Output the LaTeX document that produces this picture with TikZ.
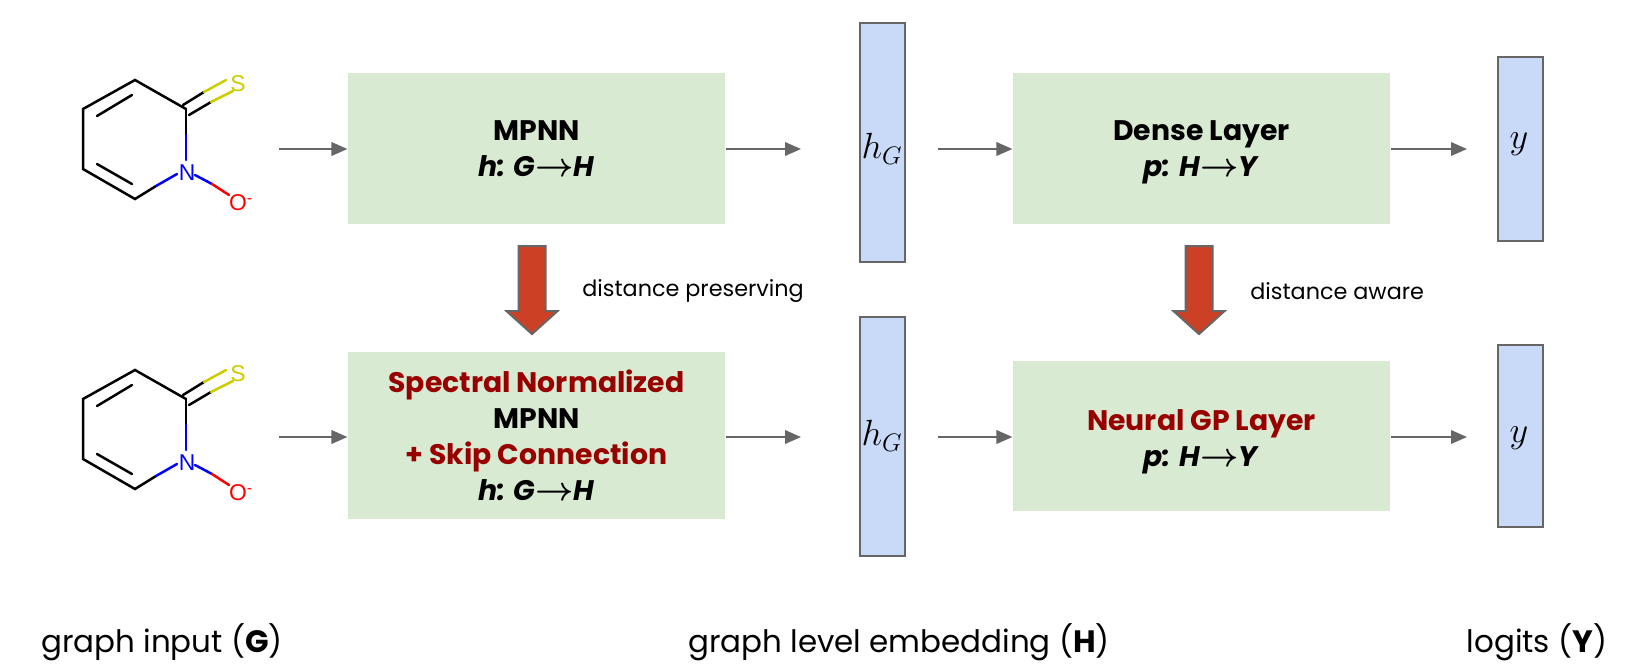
\documentclass[tikz,border=0pt]{standalone}
\usepackage{fontspec}
\setmainfont{Poppins}
\newfontfamily\atomfont{Liberation Sans}
\usepackage{xcolor}
\usetikzlibrary{calc,positioning,arrows.meta,shapes.arrows}
\definecolor{blockgreen}{HTML}{D9EAD3}
\definecolor{vecblue}{HTML}{C9DAF8}
\definecolor{edgegray}{HTML}{666666}
\definecolor{bigred}{HTML}{CC4125}
\definecolor{darkred}{HTML}{980000}
\definecolor{sulfur}{HTML}{CCCC00}
\newcommand{\maparrow}{{\boldmath\scalebox{1.1}[1.1]{$\rightarrow$}}}
\tikzstyle{block}   = [rectangle, fill=blockgreen, minimum width=7.55cm, minimum height=3.02cm, align=center, font=\fontsize{16.1}{20.5}\selectfont\bfseries, inner sep=0pt]
\tikzstyle{vec}     = [rectangle, draw=edgegray, line width=0.04cm, fill=vecblue, minimum width=0.9cm, inner sep=0pt]
\tikzstyle{vectext} = [inner sep=0pt, font=\huge]
\tikzstyle{bigarrow}= [single arrow, draw=edgegray, line width=0.04cm, fill=bigred, rotate=-90, minimum height=1.76cm, minimum width=1cm, single arrow head extend=0.24cm, single arrow tip angle=96, inner xsep=0pt, inner ysep=0.25cm]
\tikzstyle{arrow}   = [line width=0.04cm, draw=edgegray, -{Triangle[length=0.32cm,width=0.27cm]}]
\tikzstyle{bond}    = [line width=0.05cm, line cap=round]
\tikzstyle{atom}    = [inner sep=0pt, font=\fontsize{13}{13}\selectfont\atomfont]
\tikzstyle{note}    = [font=\fontsize{12.7}{15}\selectfont, inner sep=0pt]
\tikzstyle{axis}    = [font=\fontsize{17.6}{22}\selectfont, inner sep=0pt]
\begin{document}
\begin{tikzpicture}[x=0.02cm,y=-0.02cm]
        \useasboundingbox (0,0) rectangle (1633,670);

        % molecules
        \foreach \row/\dy in {top/0,bot/290} {
            \begin{scope}[shift={(0,\dy)}]
                \draw[bond] (186,109) -- (135,80) -- (83,109) -- (83,169) -- (135,199) -- (156,186);
                \draw[bond] (97,116) -- (132,95);
                \draw[bond] (97,164) -- (132,184);
                \draw[bond] (186,109) -- (186,135);
                \draw[bond,blue] (186,135) -- (186,160);
                \draw[bond,blue] (156,186) -- (177,174);
                \draw[bond,blue] (195,175) -- (212,184);
                \draw[bond,red] (212,184) -- (229,195);
                \draw[bond] (183,105) -- (204,92);
                \draw[bond] (189,115) -- (211,102);
                \draw[bond,sulfur] (204,92) -- (226,80);
                \draw[bond,sulfur] (211,102) -- (233,91);
                \node[atom,text=sulfur] (s\row) at (238,84) {S};
                \node[atom,text=blue] (n\row) at (187,173) {N};
                \node[atom,text=red] (o\row) at (241,203) {O\textsuperscript{-}};
            \end{scope}
        }

        % blocks
        \node[block] (mpnn) at (536.5,148.5) {MPNN\\\textit{h: G}\maparrow\textit{H}};
        \node[block,minimum height=3.34cm] (specmpnn) at (536.5,435.5) {\textcolor{darkred}{Spectral Normalized}\\MPNN\\\textcolor{darkred}{+ Skip Connection}\\\textit{h: G}\maparrow\textit{H}};
        \node[block] (dense) at (1201.5,148.5) {\rule{0pt}{16pt}Dense Layer\\\textit{p: H}\maparrow\textit{Y}};
        \node[block] (gplayer) at (1201.5,436) {\rule{0pt}{18pt}\textcolor{darkred}{Neural GP Layer}\\\textit{p: H}\maparrow\textit{Y}};

        % vectors
        \node[vec,minimum height=4.78cm] (hgtop) at (882,142.5) {};
        \node[vec,minimum height=4.78cm] (hgbot) at (882,436.5) {};
        \node[vec,minimum height=3.68cm] (ytop) at (1520.5,149) {};
        \node[vec,minimum height=3.66cm] (ybot) at (1520.5,436) {};
        \node[vectext] (hgtoptext) at (882,149) {$h_G$};
        \node[vectext] (hgbottext) at (882,436) {$h_G$};
        \node[vectext] (ytoptext) at (1519,144) {$y$};
        \node[vectext] (ybottext) at (1519,438) {$y$};

        % free ends of the thin arrows
        \coordinate (intop) at (279,149);
        \coordinate (inbot) at (279,437);
        \coordinate (hgtopout) at (938,149);
        \coordinate (hgbotout) at (938,437);
        \coordinate (mpnnend) at (801,149);
        \coordinate (specend) at (801,437);
        \coordinate (denseend) at (1467,149);
        \coordinate (gpend) at (1467,437);

        \draw[arrow] (intop) -- (intop -| mpnn.west);
        \draw[arrow] (inbot) -- (inbot -| specmpnn.west);
        \draw[arrow] (mpnnend -| mpnn.east) -- (mpnnend);
        \draw[arrow] (specend -| specmpnn.east) -- (specend);
        \draw[arrow] (hgtopout) -- (hgtopout -| dense.west);
        \draw[arrow] (hgbotout) -- (hgbotout -| gplayer.west);
        \draw[arrow] (denseend -| dense.east) -- (denseend);
        \draw[arrow] (gpend -| gplayer.east) -- (gpend);

        % big red arrows
        \node[bigarrow] (presarrow) at (532,284) {};
        \node[bigarrow] (awarearrow) at (1199,284) {};
        \node[note,anchor=west] (presnote) at (582,291) {distance preserving};
        \node[note,anchor=west] (awarenote) at (1250,291) {distance aware};

        % bottom labels
        \node[axis] (labelg) at (162,642) {graph input (\textbf{G})};
        \node[axis] (labelh) at (899,642) {graph level embedding (\textbf{H})};
        \node[axis] (labely) at (1537,642) {logits (\textbf{Y})};
    \end{tikzpicture}
\end{document}
